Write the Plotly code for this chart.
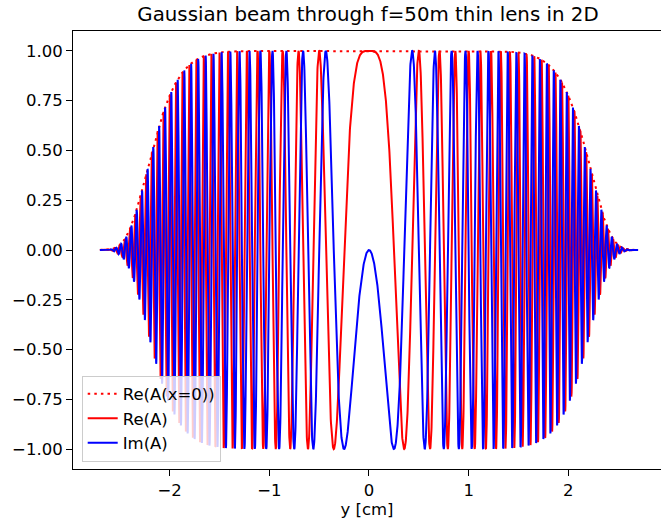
import numpy as np
import plotly.graph_objects as go

# ---- model parameters (this chart is a computed field profile) ----
wavelength_m = 250e-9          # gives Re(A) = -1 at |y| ~ 0.354 cm, Im(A) = -1 at |y| ~ 0.25 cm
focal_length_m = 50.0          # "f=50m"
y_extent_cm = 2.7              # data spans -2.7 .. 2.7 cm
flat_top_halfwidth_cm = 2.242  # envelope falls to 1/e here
flat_top_order = 12            # flat-top (super-Gaussian) order of the envelope
n_samples = 4001

# ---- axis ticks ----
x_tick_values = [-2, -1, 0, 1, 2]
x_tick_labels = ["\u22122", "\u22121", "0", "1", "2"]
y_tick_values = [-1.0, -0.75, -0.5, -0.25, 0.0, 0.25, 0.5, 0.75, 1.0]
y_tick_labels = ["\u22121.00", "\u22120.75", "\u22120.50", "\u22120.25", "0.00",
                 "0.25", "0.50", "0.75", "1.00"]

series_names = ["Re(A(x=0))", "Re(A)", "Im(A)"]

y_cm = np.linspace(-y_extent_cm, y_extent_cm, n_samples)
envelope = np.exp(-(y_cm / flat_top_halfwidth_cm) ** flat_top_order)
lens_phase = np.pi / (wavelength_m * focal_length_m) * (y_cm * 1e-2) ** 2
field_in = envelope.astype(complex)
field_out = envelope * np.exp(-1j * lens_phase)

FONT = "DejaVu Sans"
fig = go.Figure()
fig.add_trace(go.Scatter(x=y_cm, y=field_in.real, mode="lines", name=series_names[0],
                         line=dict(color="#ff0000", width=2, dash="2.5px,4.1px")))
fig.add_trace(go.Scatter(x=y_cm, y=field_out.real, mode="lines", name=series_names[1],
                         line=dict(color="#ff0000", width=2)))
fig.add_trace(go.Scatter(x=y_cm, y=field_out.imag, mode="lines", name=series_names[2],
                         line=dict(color="#0000ff", width=2)))

fig.update_layout(
    width=661, height=519,
    margin=dict(l=73, r=0, t=31, b=50),
    paper_bgcolor="white", plot_bgcolor="white",
    font=dict(family=FONT, size=16.5, color="black"),
    title=dict(text="Gaussian beam through f=50m thin lens in 2D",
               font=dict(family=FONT, size=19.8, color="black"),
               xref="container", x=368 / 661, xanchor="center",
               yref="container", y=1 - 14 / 519, yanchor="middle"),
    showlegend=True,
    legend=dict(x=0.0148, y=0.017, xanchor="left", yanchor="bottom",
                bgcolor="rgba(255,255,255,0.8)", bordercolor="#cccccc", borderwidth=1,
                font=dict(family=FONT, size=16.5, color="black"),
                tracegroupgap=0, itemwidth=30),
    xaxis=dict(range=[-2.97, 2.93], tickmode="array", tickvals=x_tick_values,
               ticktext=x_tick_labels, ticks="outside", ticklen=6, tickwidth=1,
               tickcolor="black", showline=True, linecolor="black", linewidth=1,
               mirror=True, showgrid=False, zeroline=False,
               title=dict(text="y [cm]", font=dict(family=FONT, size=16.5, color="black"),
                          standoff=4)),
    yaxis=dict(range=[-1.1, 1.1], tickmode="array", tickvals=y_tick_values,
               ticktext=y_tick_labels, ticks="outside", ticklen=6, tickwidth=1,
               tickcolor="black", showline=True, linecolor="black", linewidth=1,
               showgrid=False, zeroline=False),
)

fig.write_html("out.html")
